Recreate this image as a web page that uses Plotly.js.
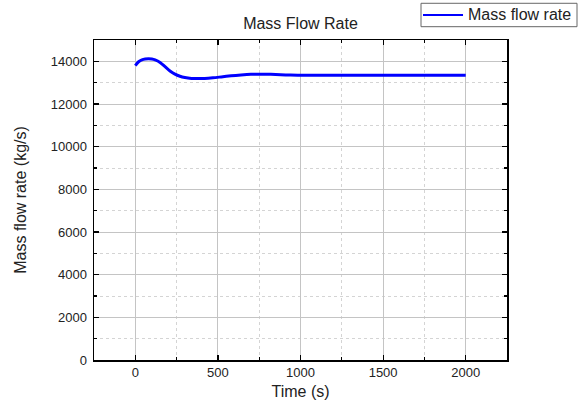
<!DOCTYPE html>
<html>
<head>
<meta charset="utf-8">
<script src="https://cdn.plot.ly/plotly-3.0.1.min.js"></script>
<style>html,body{margin:0;padding:0;background:#fff;}#chart{width:587px;height:407px;}</style>
</head>
<body>
<div id="chart"></div>
<script>
const seriesName = "Mass flow rate";
const timeS = [0, 20, 40, 60, 80, 100, 120, 150, 180, 210, 240, 270, 300, 340, 380, 420, 470, 520, 580, 640, 700, 760, 820, 880, 940, 1000, 1200, 1400, 1600, 1800, 2000];
const massFlow = [13800, 13980, 14070, 14110, 14120, 14110, 14070, 13950, 13750, 13550, 13400, 13300, 13240, 13200, 13190, 13200, 13230, 13270, 13320, 13360, 13390, 13400, 13390, 13370, 13355, 13350, 13350, 13350, 13350, 13350, 13350];
const chartTitle = "Mass Flow Rate";
const xTitle = "Time (s)";
const yTitle = "Mass flow rate (kg/s)";

const font = "Liberation Sans, Arial, sans-serif";
const lineColor = "#0000ff";
const axisCommon = {
  showline: true, linecolor: "#000", linewidth: 1.5, mirror: "ticks",
  ticks: "inside", ticklen: 5, tickwidth: 1.2, tickcolor: "#000",
  showgrid: true, gridcolor: "#c4c4c4", gridwidth: 1,
  zeroline: false, exponentformat: "none", separatethousands: false, tickformat: "d",
  tickfont: {family: font, size: 13, color: "#222"},
};

// legend box (drawn as paper-positioned decoration, like the reference's framed legend)
const legBox = {x0: 0.7918, x1: 1.1695, y0: 1.0416, y1: 1.1147};
const legMidY = (legBox.y0 + legBox.y1) / 2;

Plotly.newPlot("chart", [{
  x: timeS, y: massFlow, type: "scatter", mode: "lines", name: seriesName,
  line: {color: lineColor, width: 3, shape: "spline", smoothing: 0.8}, showlegend: false
}], {
  width: 587, height: 407,
  margin: {l: 94, r: 80, t: 40, b: 47, autoexpand: false},
  paper_bgcolor: "#fff", plot_bgcolor: "#fff",
  title: {text: chartTitle, x: 0.5, xref: "paper", xanchor: "center", y: 0.943, yanchor: "middle", font: {family: font, size: 16, color: "#222"}},
  showlegend: false,
  shapes: [
    {type: "rect", xref: "paper", yref: "paper", x0: legBox.x0, x1: legBox.x1, y0: legBox.y0, y1: legBox.y1,
     line: {color: "#666", width: 1}, fillcolor: "#fff", layer: "above"},
    {type: "line", xref: "paper", yref: "paper", x0: 0.7966, x1: 0.8935, y0: legMidY, y1: legMidY,
     line: {color: lineColor, width: 2.2}, layer: "above"}
  ],
  annotations: [
    {text: seriesName, xref: "paper", yref: "paper", x: 0.9, y: legMidY, xanchor: "left", yanchor: "middle",
     showarrow: false, font: {family: font, size: 16, color: "#222"}}
  ],
  xaxis: Object.assign({}, axisCommon, {
    range: [-250, 2250], tick0: 0, dtick: 500,
    minor: {dtick: 250, tick0: 0, ticks: "inside", ticklen: 3, tickcolor: "#000", showgrid: true, gridcolor: "#d4d4d4", griddash: "dot", gridwidth: 1},
    title: {text: xTitle, standoff: 6, font: {family: font, size: 16, color: "#222"}}
  }),
  yaxis: Object.assign({}, axisCommon, {
    range: [0, 15000], tick0: 0, dtick: 2000, ticklabelstandoff: 3,
    minor: {dtick: 1000, tick0: 0, ticks: "inside", ticklen: 3, tickcolor: "#000", showgrid: true, gridcolor: "#d4d4d4", griddash: "dot", gridwidth: 1},
    title: {text: yTitle, standoff: 20, font: {family: font, size: 16, color: "#222"}}
  })
}, {displayModeBar: false, staticPlot: true});
</script>
</body>
</html>
